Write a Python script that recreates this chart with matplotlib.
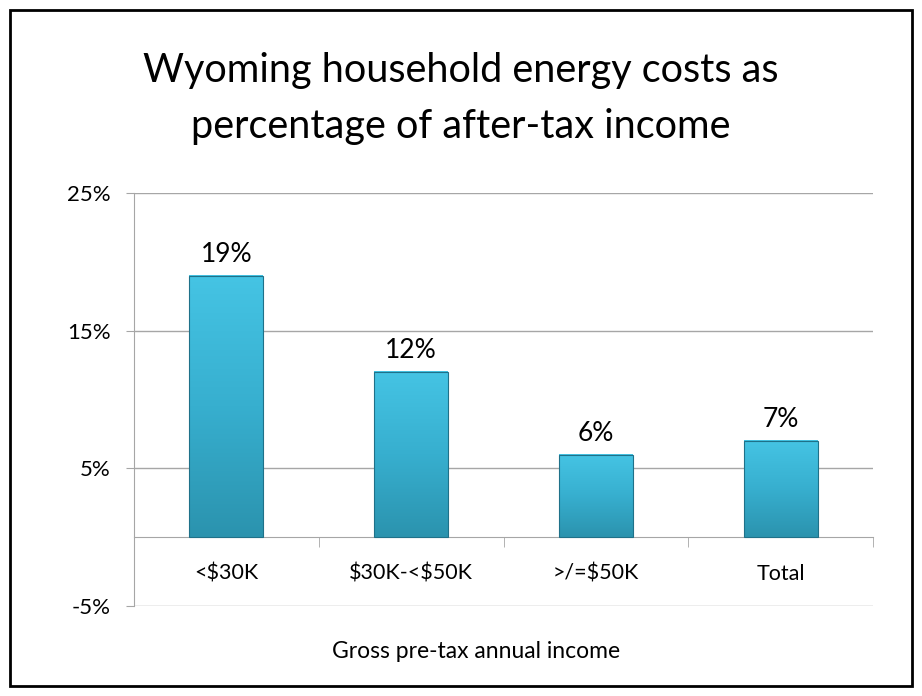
import numpy as np
import matplotlib
matplotlib.use('Agg')
import matplotlib.pyplot as plt
from matplotlib.patches import Rectangle
from matplotlib.colors import LinearSegmentedColormap

categories = ['<$30K', '$30K-<$50K', '>/=$50K', 'Total']
values = [19, 12, 6, 7]
y_ticks = [-5, 5, 15, 25]

title_lines = ['Wyoming household energy costs as', 'percentage of after-tax income']
x_label = 'Gross pre-tax annual income'

plt.rcParams['font.family'] = ['Lato', 'DejaVu Sans']
plt.rcParams['text.parse_math'] = False

grid_color = '#a6a6a6'
bar_cmap = LinearSegmentedColormap.from_list('bar', ['#2b93ae', '#37afcf', '#45c4e4'])


def draw_bars(ax, xs, vals, width):
    grad = np.linspace(0, 1, 256).reshape(-1, 1)
    for x, v in zip(xs, vals):
        left = x - width / 2
        ax.imshow(grad, cmap=bar_cmap, origin='lower', aspect='auto',
                  extent=(left, left + width, 0, v), zorder=3)
        ax.add_patch(Rectangle((left, 0), width, v, fill=False,
                               edgecolor='#1f7189', lw=0.8, zorder=4))
        ax.annotate(f'{v}%', (x, v), xytext=(0, 10), textcoords='offset points',
                    ha='center', va='baseline', fontsize=19, zorder=5)


def main():
    fig = plt.figure(figsize=(9.22, 6.96), dpi=100)
    ax = fig.add_axes([134 / 922, 1 - 606 / 696, 739 / 922, 413 / 696])

    xs = np.arange(len(categories))
    draw_bars(ax, xs, values, 0.4)

    ax.set_xlim(-0.5, len(categories) - 0.5)
    ax.set_ylim(-5, 25)

    for y in y_ticks:
        ax.axhline(y, color=grid_color, lw=1, zorder=1)

    ax.set_yticks(y_ticks)
    ax.set_yticklabels([f'{t}%' for t in y_ticks], fontsize=16)
    ax.tick_params(axis='y', length=6, color=grid_color, pad=11)

    ax.spines['top'].set_visible(False)
    ax.spines['right'].set_visible(False)
    ax.spines['left'].set_color(grid_color)
    ax.spines['bottom'].set_position(('data', 0))
    ax.spines['bottom'].set_color(grid_color)

    ax.set_xticks(xs)
    ax.set_xticklabels(categories, fontsize=15.5)
    ax.set_xticks(np.arange(len(categories) + 1) - 0.5, minor=True)
    ax.tick_params(axis='x', which='major', length=0, pad=19)
    ax.tick_params(axis='x', which='minor', length=7, color=grid_color, direction='out')

    fig.text(476 / 922, 1 - 658 / 696, x_label, ha='center', va='baseline', fontsize=16.5)
    for line, y in zip(title_lines, [82, 138]):
        fig.text(461 / 922, 1 - y / 696, line, ha='center', va='baseline', fontsize=28.5)

    fig.patches.append(Rectangle((10 / 922, 10 / 696), 902 / 922, 676 / 696,
                                 transform=fig.transFigure, fill=False,
                                 edgecolor='black', lw=2))

    fig.savefig('out.png', dpi=100)


if __name__ == '__main__':
    main()
